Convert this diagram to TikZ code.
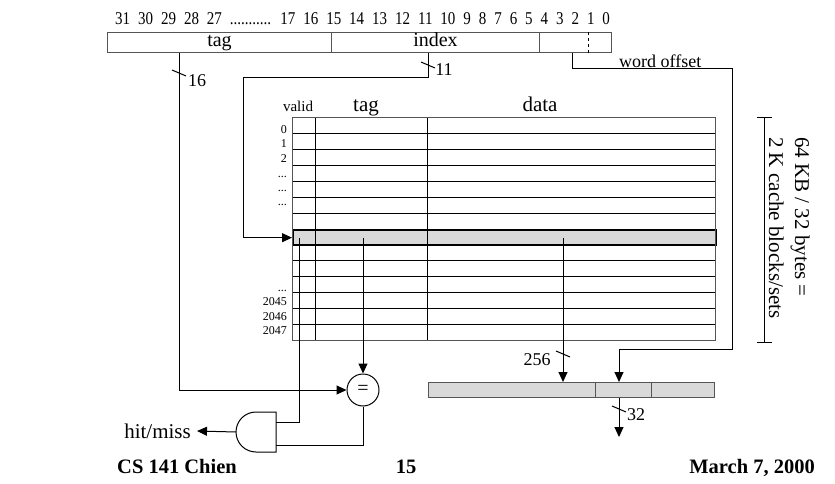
\documentclass[tikz,border=0pt]{standalone}
\usepackage{fontspec}
\setmainfont{Liberation Serif}
\newfontfamily\bitfont[WordSpace=2.12]{Liberation Serif}
\definecolor{CacheGray}{RGB}{217,217,217}
\definecolor{EdgeGray}{RGB}{85,85,85}
\usetikzlibrary{arrows.meta, positioning, calc}

\begin{document}
\begin{tikzpicture}[
    x=1pt, y=-1pt,
    wire/.style={line width=1pt, black},
    arr/.style={wire, -{Triangle[length=10pt, width=9pt]}},
    field/.style={rectangle, draw=EdgeGray, line width=1pt, minimum height=20pt, inner sep=0pt, anchor=north west, text height=13pt, text depth=4pt, font=\fontsize{20}{22}\selectfont},
    blk/.style={rectangle, draw=EdgeGray, line width=1pt, fill=CacheGray, minimum height=15pt, inner sep=0pt, anchor=north west},
    idx/.style={anchor=base east, inner sep=0pt, font=\fontsize{12}{13}\selectfont},
    hdr/.style={anchor=base, inner sep=0pt, font=\fontsize{21}{24}\selectfont},
    buswidth/.style={inner sep=0pt, font=\fontsize{18}{20}\selectfont},
    foot/.style={anchor=base, inner sep=0pt, font=\fontsize{20.5}{24}\selectfont\bfseries}
]
    \useasboundingbox (0,0) rectangle (835,484);
    % address
    \node[anchor=base west, inner sep=0pt, font=\bitfont\fontsize{15}{18}\selectfont] (bits) at (115,25)
        {\scalebox{1}[1.2]{31 30 29 28 27 ........... 17 16 15 14 13 12 11 10 9 8 7 6 5 4 3 2 1 0}};
    \node[field, minimum width=224pt] (fldtag) at (107,32) {tag};
    \node[field, minimum width=208pt] (fldindex) at (331,32) {index};
    \node[field, minimum width=72pt] (fldoff) at (539,32) {};
    \draw[wire, dashed] ($(fldoff.north west)+(49,0)$) -- ($(fldoff.south west)+(49,0)$);
    \coordinate (tagbit) at ($(fldtag.south west)+(72,0)$);
    \coordinate (idxbit) at ($(fldindex.south west)+(97,0)$);
    \coordinate (offbit) at ($(fldoff.south west)+(33,0)$);

    % cache array
    \node[rectangle, draw, line width=1.5pt, fill=CacheGray, minimum width=423pt, minimum height=15.86pt, inner sep=0pt, anchor=north west] (selrow) at (292,229) {};
    \foreach \r in {1,...,13}
        \draw[wire] (292,{118+\r*15.857}) -- (715,{118+\r*15.857});
    \draw[wire] (315,118) -- (315,340);
    \draw[wire] (427,118) -- (427,340);
    \draw[line width=1pt, draw=EdgeGray] (292,118) rectangle (715,340);
    \node[hdr, font=\fontsize{15}{18}\selectfont] (hvalid) at (298,112) {valid};
    \node[hdr] (htag) at (366,112) {tag};
    \node[hdr] (hdata) at (540,112) {data};
    \node[idx] (i0) at (287,134) {0};
    \node[idx] (i1) at (287,147.5) {1};
    \node[idx] (i2) at (287,162) {2};
    \node[idx] (i3) at (287,177) {...};
    \node[idx] (i4) at (287,191) {...};
    \node[idx] (i5) at (287,205) {...};
    \node[idx] (i6) at (287,291) {...};
    \node[idx] (i2045) at (287,305) {2045};
    \node[idx] (i2046) at (287,320) {2046};
    \node[idx] (i2047) at (287,334) {2047};
    \coordinate (vbit) at ($(selrow.west)+(7,0)$);
    \coordinate (tbit) at ($(selrow.west)+(71,0)$);
    \coordinate (dbit) at ($(selrow.west)+(271,0)$);

    % size bracket
    \draw[wire] (757,118) -- (772,118) (764,118) -- (764,342) (757,342) -- (772,342);
    \node[rotate=-90, anchor=north west, align=left, inner sep=0pt, font=\fontsize{21}{26}\selectfont] (size) at (810,137)
        {64 KB / 32 bytes =\\2 K cache blocks/sets};

    % compare and hit
    \node[circle, draw, line width=1pt, minimum size=32pt, inner sep=0pt, font=\fontsize{20}{22}\selectfont] (cmp) at (363,390) {=};
    \draw[wire] (276,412) -- (256,412) arc[start angle=270, end angle=90, radius=20] -- (276,452) -- cycle;
    \coordinate (andA) at (276,422);
    \coordinate (andB) at (276,445);
    \coordinate (andY) at (236,432);
    \node[anchor=east, inner sep=0pt, inner xsep=6pt, font=\fontsize{21}{23}\selectfont] (hitmiss) at (197,431) {hit/miss};

    % data select
    \node[blk, minimum width=167pt] (blk0) at (428,382) {};
    \node[blk, minimum width=56pt] (blk1) at (595,382) {};
    \node[blk, minimum width=63pt] (blk2) at (651,382) {};
    \coordinate (offsel) at ($(blk1.north west)+(24,0)$);
    \coordinate (wordout) at ($(blk1.south west)+(24,39)$);

    % wires
    \draw[arr] (tagbit) |- (cmp.west);
    \draw[arr] (idxbit) |- (243,78) |- (selrow.west);
    \draw[arr] (offbit) |- (732,69) |- (619,349) -- (offsel);
    \node[anchor=base west, inner sep=0pt, font=\fontsize{18}{20}\selectfont] (wordoff) at (619,67.5) {word offset};
    \draw[arr] (tbit) -- (cmp.north);
    \draw[wire] (vbit) |- (andA);
    \draw[wire] (cmp.south) |- (andB);
    \draw[arr] (andY) -- (hitmiss.east);
    \draw[arr] (dbit) -- (dbit |- blk0.north);
    \draw[arr] (offsel |- blk1.south) -- (wordout);

    % bus widths
    \draw[wire] (179,73) ++(-7,-3) -- ++(14,6);
    \node[buswidth] (w16) at (197,81) {16};
    \draw[wire] (428,65) ++(-7,-3) -- ++(14,6);
    \node[buswidth] (w11) at (444,70) {11};
    \draw[wire] (563,354) ++(-7,-3) -- ++(14,6);
    \node[buswidth] (w256) at (537,360) {256};
    \draw[wire] (619,409) ++(-7,-3) -- ++(14,6);
    \node[buswidth] (w32) at (636,415) {32};

    % footer
    \node[foot, anchor=base west] (course) at (117,473) {CS 141 Chien};
    \node[foot] (page) at (406,473) {15};
    \node[foot, anchor=base east] (date) at (815,473) {March 7, 2000};
\end{tikzpicture}
\end{document}
